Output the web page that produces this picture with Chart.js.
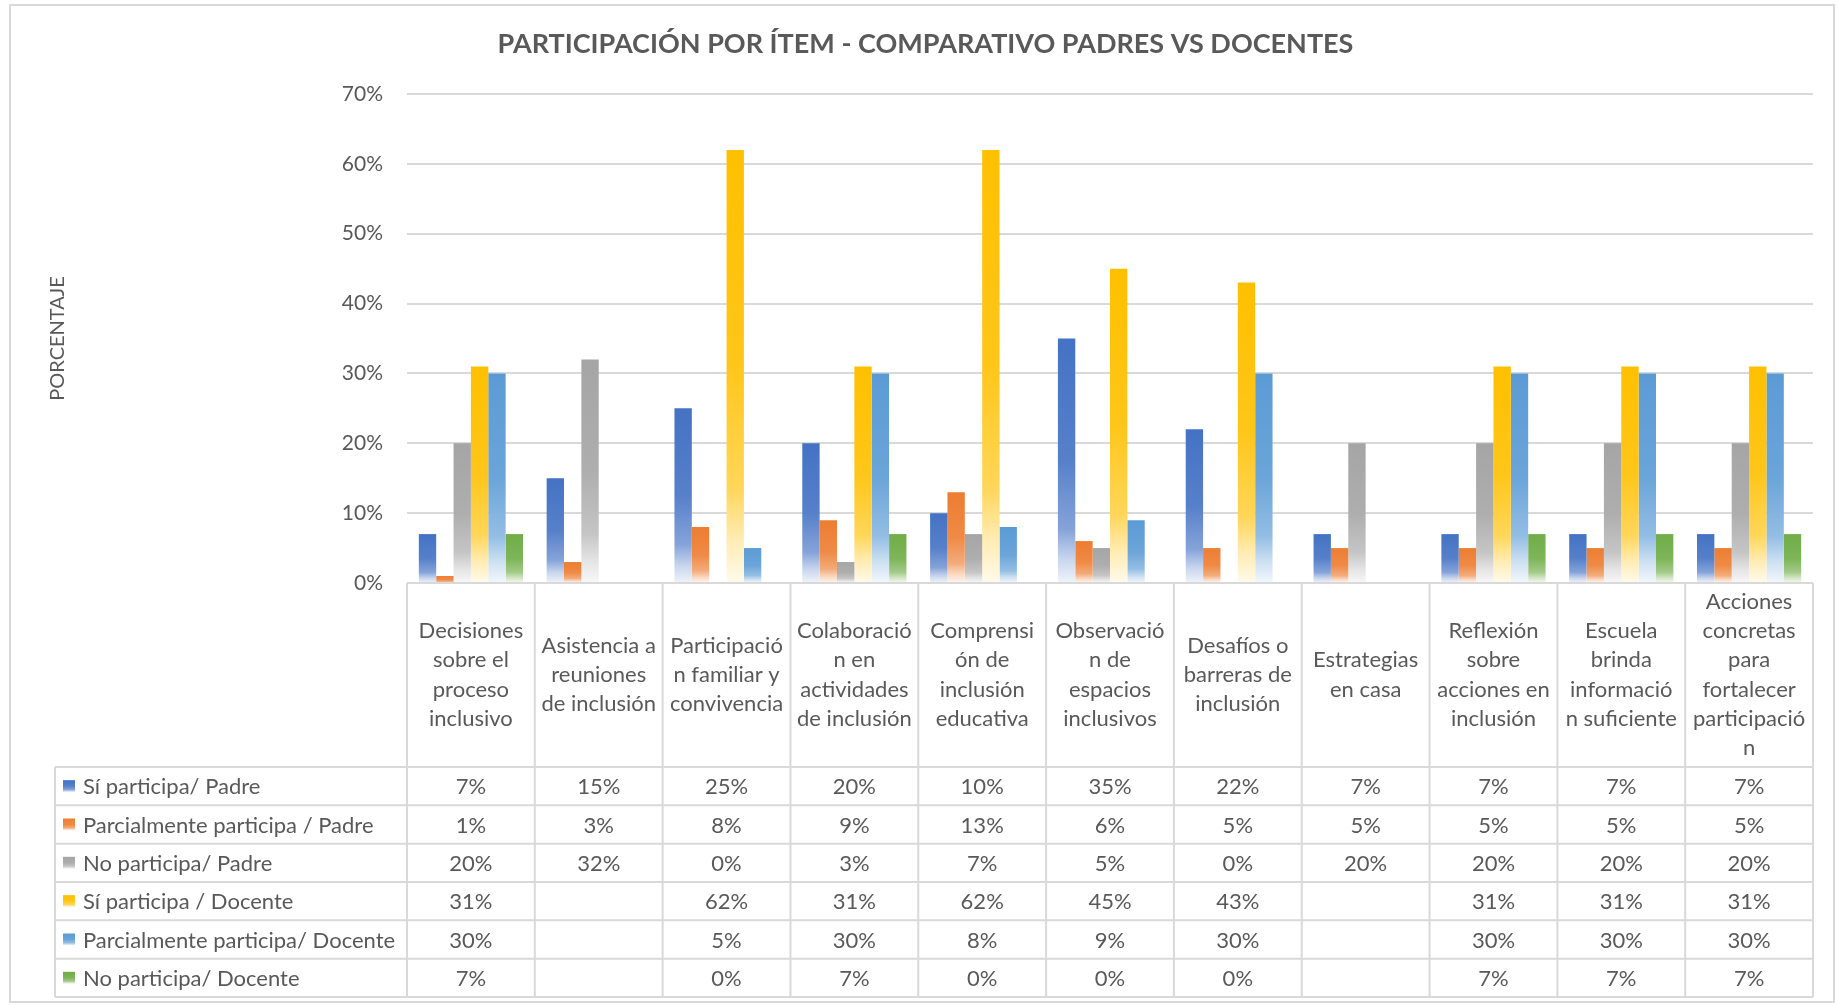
<!DOCTYPE html>
<html lang="es">
<head>
<meta charset="utf-8">
<title>Participación por ítem</title>
<script src="https://cdn.jsdelivr.net/npm/chart.js@4.4.1/dist/chart.umd.min.js"></script>
<style>
  html, body { margin:0; padding:0; background:#fff; }
  #chart { display:block; }
</style>
</head>
<body>
<canvas id="chart" width="1838" height="1006"></canvas>
<script>
// ─── data ────────────────────────────────────────────────────────────────────
const categories = [
  ['Decisiones', 'sobre el', 'proceso', 'inclusivo'],
  ['Asistencia a', 'reuniones', 'de inclusión'],
  ['Participació', 'n familiar y', 'convivencia'],
  ['Colaboració', 'n en', 'actividades', 'de inclusión'],
  ['Comprensi', 'ón de', 'inclusión', 'educativa'],
  ['Observació', 'n de', 'espacios', 'inclusivos'],
  ['Desafíos o', 'barreras de', 'inclusión'],
  ['Estrategias', 'en casa'],
  ['Reflexión', 'sobre', 'acciones en', 'inclusión'],
  ['Escuela', 'brinda', 'informació', 'n suficiente'],
  ['Acciones', 'concretas', 'para', 'fortalecer', 'participació', 'n']
];
const seriesNames = [
  'Sí participa/ Padre',
  'Parcialmente participa / Padre',
  'No participa/ Padre',
  'Sí participa / Docente',
  'Parcialmente participa/ Docente',
  'No participa/ Docente'
];
const siPadre       = [7, 15, 25, 20, 10, 35, 22, 7, 7, 7, 7];
const parcialPadre  = [1, 3, 8, 9, 13, 6, 5, 5, 5, 5, 5];
const noPadre       = [20, 32, 0, 3, 7, 5, 0, 20, 20, 20, 20];
const siDocente     = [31, null, 62, 31, 62, 45, 43, null, 31, 31, 31];
const parcialDocente= [30, null, 5, 30, 8, 9, 30, null, 30, 30, 30];
const noDocente     = [7, null, 0, 7, 0, 0, 0, null, 7, 7, 7];
const seriesValues = [siPadre, parcialPadre, noPadre, siDocente, parcialDocente, noDocente];
const yTicks = [0, 10, 20, 30, 40, 50, 60, 70];

const COLORS = ['#4472C4', '#ED7D31', '#A5A5A5', '#FFC000', '#5B9BD5', '#70AD47'];
const TEXT = '#595959';
const LINE = '#d9d9d9';
const FONT = 'Lato';

// ── helpers ──────────────────────────────────────────────────────────────────
function mix(hex, t) {            // t = share of white
  const n = parseInt(hex.slice(1), 16);
  const r = n >> 16, g = (n >> 8) & 255, b = n & 255;
  const f = c => Math.round(c + (255 - c) * t);
  return `rgb(${f(r)},${f(g)},${f(b)})`;
}
function fadeGradient(ctx, color, top, bottom) {
  const g = ctx.createLinearGradient(0, top, 0, bottom);
  g.addColorStop(0, color);
  g.addColorStop(0.5, mix(color, 0.1));
  g.addColorStop(0.78, mix(color, 0.35));
  g.addColorStop(0.9, mix(color, 0.7));
  g.addColorStop(1, mix(color, 0.92));
  return g;
}
function barFill(color) {
  return c => {
    const chart = c.chart;
    if (!chart.chartArea || c.parsed == null || c.parsed.y == null) return color;
    const y = chart.scales.y;
    const top = y.getPixelForValue(c.parsed.y);
    const base = y.getPixelForValue(0);
    if (base - top < 1) return color;
    return fadeGradient(chart.ctx, color, top, base);
  };
}

// ── data table under the plot ────────────────────────────────────────────────
const tablePlugin = {
  id: 'dataTable',
  afterDraw(chart) {
    const ctx = chart.ctx;
    const area = chart.chartArea;
    const x = chart.scales.x;
    const n = categories.length;
    const colW = (area.right - area.left) / n;
    const legendLeft = 55;
    const headerTop = area.bottom;
    const headerBottom = 767;
    const rowH = 38.33;
    const tableBottom = headerBottom + rowH * seriesNames.length;

    ctx.save();
    // outer chart frame
    ctx.strokeStyle = LINE;
    ctx.lineWidth = 2;
    ctx.strokeRect(10, 5, 1824, 997);

    // grid of the table
    ctx.beginPath();
    ctx.moveTo(area.left, headerTop); ctx.lineTo(area.right, headerTop);
    for (let r = 0; r <= seriesNames.length; r++) {
      const yy = headerBottom + r * rowH;
      ctx.moveTo(legendLeft, yy); ctx.lineTo(area.right, yy);
    }
    for (let i = 0; i <= n; i++) {
      const xx = area.left + i * colW;
      ctx.moveTo(xx, headerTop); ctx.lineTo(xx, tableBottom);
    }
    ctx.moveTo(legendLeft, headerBottom); ctx.lineTo(legendLeft, tableBottom);
    ctx.stroke();

    ctx.fillStyle = TEXT;
    ctx.font = `22px ${FONT}`;
    ctx.textAlign = 'center';
    ctx.textBaseline = 'middle';

    // category headers
    const lh = 29.3;
    const hMid = (headerTop + headerBottom) / 2;
    categories.forEach((lines, i) => {
      const cx = x.getPixelForValue(i);
      const y0 = hMid - (lines.length - 1) * lh / 2;
      lines.forEach((t, k) => ctx.fillText(t, cx, y0 + k * lh));
    });

    // values
    seriesValues.forEach((vals, r) => {
      const cy = headerBottom + r * rowH + rowH / 2 + 1;
      vals.forEach((v, i) => {
        if (v === null) return;
        ctx.fillText(v + '%', x.getPixelForValue(i), cy);
      });
    });

    // legend keys
    ctx.textAlign = 'left';
    seriesNames.forEach((name, r) => {
      const cy = headerBottom + r * rowH + rowH / 2;
      ctx.fillStyle = fadeGradient(ctx, COLORS[r], cy - 6, cy + 6);
      ctx.fillRect(63, cy - 6, 12, 12);
      ctx.fillStyle = TEXT;
      ctx.fillText(name, 83, cy + 1);
    });
    ctx.restore();
  }
};

// ── chart ────────────────────────────────────────────────────────────────────
new Chart(document.getElementById('chart'), {
  type: 'bar',
  data: {
    labels: categories.map(c => c.join(' ')),
    datasets: seriesNames.map((name, i) => ({
      label: name,
      data: seriesValues[i],
      backgroundColor: barFill(COLORS[i]),
      borderWidth: 0,
      barPercentage: 1.0,
      categoryPercentage: 0.815
    }))
  },
  options: {
    responsive: false,
    animation: false,
    devicePixelRatio: 1,
    layout: { padding: { left: 38, right: 25, top: 0, bottom: 0 } },
    plugins: {
      legend: { display: false },
      tooltip: { enabled: false },
      title: {
        display: true,
        text: 'PARTICIPACIÓN POR ÍTEM - COMPARATIVO PADRES VS DOCENTES',
        color: TEXT,
        font: { family: FONT, size: 27, weight: 'bold' },
        padding: { top: 28, bottom: 33.6 }
      }
    },
    scales: {
      x: {
        ticks: { display: false },
        grid: { display: false },
        border: { display: false },
        afterFit: s => { s.height = 423; }
      },
      y: {
        min: 0,
        max: 70,
        afterBuildTicks: s => { s.ticks = yTicks.map(v => ({ value: v })); },
        ticks: {
          color: TEXT,
          padding: 24,
          font: { family: FONT, size: 21 },
          callback: v => v + '%'
        },
        grid: { color: LINE, lineWidth: 2, drawTicks: false },
        border: { display: false },
        title: {
          display: true,
          text: 'PORCENTAJE',
          color: TEXT,
          font: { family: FONT, size: 20 },
          padding: { top: 8, bottom: 0 }
        },
        afterFit: s => { s.width = 369; }
      }
    }
  },
  plugins: [tablePlugin]
});
</script>
</body>
</html>
